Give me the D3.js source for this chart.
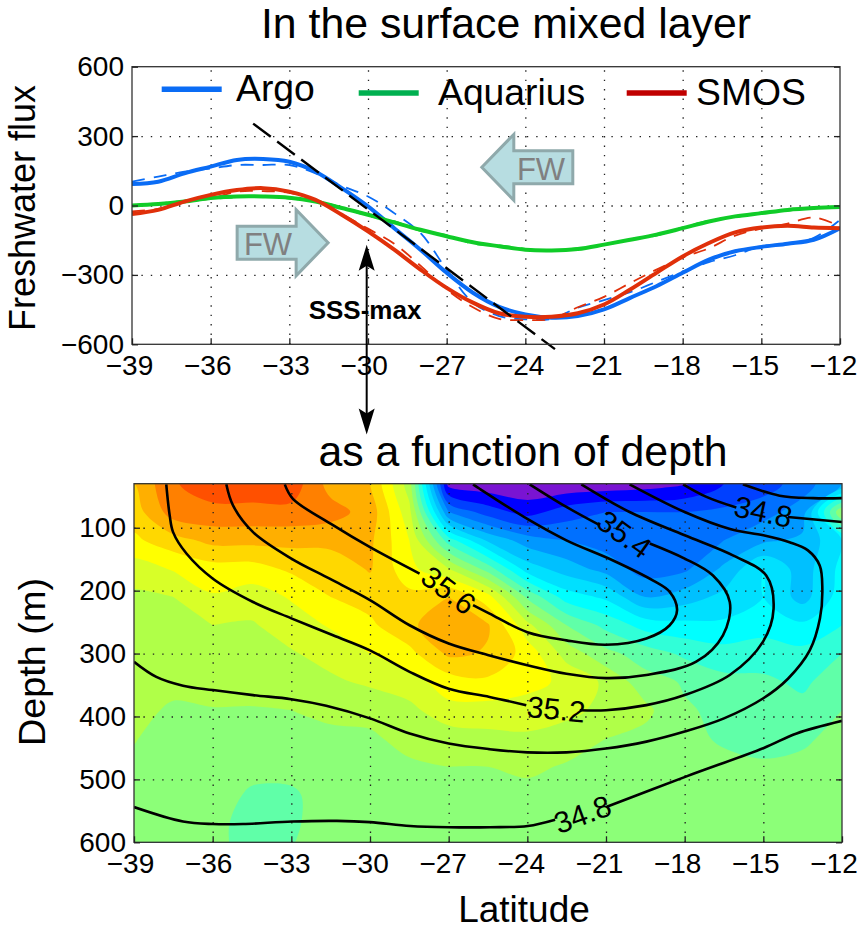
<!DOCTYPE html>
<html><head><meta charset="utf-8">
<script src="https://cdn.jsdelivr.net/npm/d3@7"></script>
<style>
html,body{margin:0;padding:0;background:#fff}
svg{display:block}
text{font-family:"Liberation Sans",Arial,sans-serif;fill:#000}
</style></head><body><svg id="c" width="857" height="930"></svg>
<script>
// ---------- DATA ----------
const latTicks=[-39,-36,-33,-30,-27,-24,-21,-18,-15,-12];
const fluxTicks=[-600,-300,0,300,600];
const depthTicks=[100,200,300,400,500,600];
const seriesLat=[-39,-38,-37,-36,-35,-34,-33,-32,-31,-30,-29,-28,-27,-26,-25,-24,-23,-22,-21,-20,-19,-18,-17,-16,-15,-14,-13,-12];
const argo=[93,103,139,168,197,201,189,146,75,-4,-98,-191,-291,-377,-438,-471,-485,-478,-449,-399,-349,-291,-234,-198,-179,-165,-148,-98];
const aquarius=[0,6,17,32,39,39,34,17,-11,-40,-73,-105,-133,-159,-176,-191,-194,-188,-169,-148,-126,-98,-69,-47,-33,-19,-11,-7];
const smos=[-37,-19,17,46,67,75,60,24,-40,-112,-191,-277,-356,-420,-466,-481,-481,-466,-428,-363,-291,-220,-162,-116,-95,-88,-95,-98];
const argoDash=[103,125,146,160,175,175,175,139,85,39,-33,-119,-277,-420,-478,-492,-490,-442,-409,-375,-330,-285,-245,-215,-176,-165,-140,-62];
const aquariusDash=[-3,8,20,28,35,42,30,20,-8,-45,-68,-110,-128,-165,-172,-188,-196,-184,-172,-145,-130,-95,-65,-50,-30,-22,-8,-5];
const smosDash=[-25,-15,15,30,60,62,55,22,-38,-100,-165,-260,-363,-440,-490,-495,-490,-440,-395,-335,-277,-225,-185,-130,-100,-78,-52,-90];
const fitLine=[[-34.38,354],[-22.87,-621]];

const gridLat=[-39,-37.5,-36,-34.5,-33,-31.5,-30,-28.5,-27,-25.5,-24,-22.5,-21,-19.5,-18,-16.5,-15,-13.5,-12];
const gridDepth=[30,75,120,165,210,255,300,345,390,435,480,525,570,615];
// colour-band position of the shading, one list per latitude, top to bottom
const shading=[
[15,14.5,13.8,12.5,11.8,11.5,11.4,11.3,11.2,11.05,10.8,10.6,10.5,10.5],
[16.9,16.5,14.6,13.1,12,11.7,11.5,11.2,10.9,10.6,10.5,10.4,10.4,10.4],
[17.6,16.7,15.3,13.6,12.9,12,11.6,11.4,10.95,10.6,10.4,10.3,10.3,10.3],
[17.6,16.7,15.3,13.6,12.5,11.9,11.6,11.3,10.95,10.5,10.2,9.9,9.6,9.6],
[17.6,16.7,15.3,14.2,13.1,12.5,11.9,11.5,11,10.6,10.2,9.9,9.9,10],
[15.6,16.4,15.3,14.4,14,13.1,12.4,11.8,11.2,10.8,10.5,10.3,10.3,10.3],
[15,15.6,15.2,15.1,14.4,13.8,13,12.2,11.2,10.9,10.6,10.4,10.4,10.4],
[11.5,12.3,13,13.3,14.3,14.8,13.7,12.6,11.7,11.2,10.9,10.6,10.5,10.5],
[0.6,4,8.5,12,15,15.7,15.2,13.5,12.7,11.4,11,10.7,10.5,10.5],
[0.3,2.5,5.8,9.5,13.4,15.1,14.9,13.8,12.6,11.7,11,10.7,10.5,10.5],
[0.2,1.6,4.5,6.5,9.8,12.3,13.6,13.3,12.6,11.8,11.2,10.7,10.5,10.5],
[0.2,2.5,4,5.5,7.5,10,11.6,12.8,12.3,11.5,10.9,10.6,10.5,10.5],
[0.3,3,3.5,4.6,6.8,8.7,10.3,11.8,11.7,11,10.5,10.5,10.5,10.5],
[0.5,3,3.2,3.5,5,7.6,9.5,10.4,11.25,10.7,10.5,10.5,10.5,10.5],
[0.9,3,3.5,3.8,5.5,7.3,8.8,9.9,10.1,10.2,10.3,10.4,10.5,10.5],
[2,3.2,4,5.2,6.3,7.2,8.4,9.3,9.8,9.9,10.2,10.4,10.5,10.5],
[2.5,3.6,4.8,7,7,7.6,8.5,9.2,9.4,9.5,10.2,10.4,10.5,10.5],
[3.5,4.5,5.2,5.5,5.6,7.2,8.3,8.8,9.3,9.8,10.3,10.5,10.5,10.5],
[5,11,7,7.3,7.5,8,9,9.6,10,10.4,10.6,10.6,10.6,10.6]
];
const bandColors=["#7a14d2","#0000ff","#0040ff","#0070ff","#0098ff","#00c0ff","#00e0ff","#00ffff","#30ffd8","#60ffa8","#8cff78","#b0ff48","#d8ff28","#ffff00","#ffd800","#ffaf00","#ff8000","#ff5000"];

const isoBottom1=[[-39,544],[-37.13,567],[-35.99,571],[-34.84,571],[-32.97,567],[-31.26,566],[-30,568],[-28.47,574],[-26.99,576],[-25.42,576],[-23.98,574],[-22.94,564]];
const isoBottom2=[[-20.97,543.5],[-17.98,496],[-14.98,450],[-13.73,427],[-12,407]];
const isoC=[[-39,313],[-38.15,337],[-37.13,351],[-35.99,358],[-34.46,366],[-33,372.5],[-31.67,383],[-30,403],[-28.49,427],[-27,443],[-25.44,452],[-24,457],[-22.51,457],[-21,451],[-19.46,440],[-18,424],[-16.5,403],[-15,371],[-14.06,340],[-13.23,295],[-12.84,244],[-12.75,197],[-12.85,160],[-13.3,136],[-14,123],[-15,112],[-16.27,102],[-18,75],[-20.1,31]];
const isoL1a=[[-37.77,31],[-37.64,80],[-37.51,107],[-37,141],[-35.99,181],[-34.46,218],[-33,244],[-31.41,271],[-30,295],[-28.49,329],[-27,356],[-25.44,369],[-24.04,382]];
const isoL1b=[[-22,390],[-21,390],[-19.46,382],[-18,366],[-16.28,334],[-15.01,281],[-14.61,229],[-14.89,176],[-16.16,144],[-18,112],[-20.1,75],[-21.94,31]];
const isoL2a=[[-35.48,31],[-35.22,65],[-34.46,107],[-33,149],[-31.54,181],[-30,215],[-28.49,255],[-27,284],[-25.44,303],[-24,318.5],[-22.51,332],[-21,339],[-19.46,334],[-17.56,313],[-16.54,271],[-16.28,218],[-16.92,176],[-18,149],[-19.33,125]];
const isoL2b=[[-21.24,96],[-22.51,67],[-23.91,31]];
const isoL3a=[[-33.25,31],[-32.94,54],[-31.41,96],[-30,131],[-28.11,173]];
const isoL3b=[[-26.07,223],[-25.44,236.5],[-24,266],[-22.51,279],[-21,286],[-19.46,276],[-18.57,255],[-18.29,231],[-18.57,202],[-19.2,184],[-20.73,152],[-22.51,120],[-24,86],[-25.82,38],[-26.07,31]];
const isoTopA=[[-18.06,31],[-17.17,51],[-16.03,68]];
const isoTopA2=[[-14.06,83],[-12,91]];
const isoTopB=[[-15.78,31],[-14.38,49],[-13.1,53],[-12,53]];
const isolines=[isoBottom1,isoBottom2,isoC,isoL1a,isoL1b,isoL2a,isoL2b,isoL3a,isoL3b,isoTopA,isoTopA2,isoTopB];
const isoLabels=[["35.6",-27,199,37],["35.4",-20.3,110,36],["35.2",-22.9,388,6],["34.8",-21.9,555,-20],["34.8",-15,74,12]];

// ---------- LAYOUT ----------
const svg=d3.select("#c");
const topBox={l:132,r:840,t:66.7,b:344.3};
const botBox={l:134,r:842,t:483.7,b:842.3};
const xT=d3.scaleLinear([-39,-12],[topBox.l,topBox.r]);
const yT=d3.scaleLinear([-600,600],[topBox.b,topBox.t]);
const xB=d3.scaleLinear([-39,-12],[botBox.l,botBox.r]);
const yB=d3.scaleLinear([30,600],[botBox.t,botBox.b]);

const defs=svg.append("defs");
defs.append("clipPath").attr("id","bc").append("rect").attr("x",botBox.l).attr("y",botBox.t).attr("width",botBox.r-botBox.l).attr("height",botBox.b-botBox.t);
defs.append("clipPath").attr("id","tc").append("rect").attr("x",topBox.l).attr("y",topBox.t).attr("width",topBox.r-topBox.l).attr("height",topBox.b-topBox.t);

// ---------- SHADED FIELD ----------
const pad=2, nx=gridLat.length, ny=gridDepth.length;
const W=nx+2*pad, H=ny+2*pad, values=new Array(W*H);
for(let j=0;j<H;j++)for(let i=0;i<W;i++){
  const ci=Math.min(nx-1,Math.max(0,i-pad)), cj=Math.min(ny-1,Math.max(0,j-pad));
  values[j*W+i]=shading[ci][cj];
}
const ixLat=d3.scaleLinear([0,nx-1],[-39,-12]);
const ixDepth=d3.scaleLinear([0,ny-1],[30,615]);
const ringLine=d3.line().curve(d3.curveCatmullRomClosed.alpha(0.5))
  .x(d=>xB(ixLat(d[0]-0.5-pad))).y(d=>yB(ixDepth(d[1]-0.5-pad)));
const field=svg.append("g").attr("clip-path","url(#bc)");
field.append("rect").attr("x",botBox.l).attr("y",botBox.t).attr("width",botBox.r-botBox.l).attr("height",botBox.b-botBox.t).attr("fill",bandColors[0]);
const contours=d3.contours().size([W,H]).thresholds(d3.range(1,bandColors.length))(values);
field.selectAll("path").data(contours).join("path")
  .attr("fill",d=>bandColors[d.value]).attr("fill-rule","evenodd")
  .attr("d",d=>d.coordinates.flatMap(poly=>poly.map(r=>ringLine(r.slice(0,-1)))).join(""));

// ---------- AXES / GRID ----------
function gridAndAxes(x,y,box,yt){
  const h=box.b-box.t,w=box.r-box.l;
  const g=svg.append("g");
  const gx=g.append("g").attr("transform",`translate(0,${box.b})`).call(d3.axisBottom(x).tickValues(latTicks.slice(1,-1)).tickSize(-h).tickFormat(""));
  const gy=g.append("g").attr("transform",`translate(${box.l},0)`).call(d3.axisLeft(y).tickValues(yt).tickSize(-w).tickFormat(""));
  [gx,gy].forEach(a=>{a.select(".domain").remove();a.selectAll("line").attr("stroke","#222").attr("stroke-width",1.3).attr("stroke-dasharray","1.4 8");});
}
gridAndAxes(xB,yB,botBox,depthTicks.slice(0,-1));
gridAndAxes(xT,yT,topBox,[-300,0,300]);

// ---------- ISOLINES ----------
const isoLine=d3.line().curve(d3.curveCatmullRom.alpha(0.5)).x(d=>xB(d[0])).y(d=>yB(d[1]));
const isoG=svg.append("g").attr("clip-path","url(#bc)");
isoG.selectAll("path").data(isolines).join("path").attr("d",isoLine).attr("fill","none").attr("stroke","#000").attr("stroke-width",2.6);
svg.append("g").selectAll("text").data(isoLabels).join("text")
  .attr("transform",d=>`translate(${xB(d[1])},${yB(d[2])}) rotate(${d[3]})`)
  .attr("text-anchor","middle").attr("dy","0.36em").attr("font-size",30).text(d=>d[0]);

// ---------- LINES ----------
const lineT=d3.line().curve(d3.curveCatmullRom.alpha(0.5)).x((d,i)=>xT(seriesLat[i])).y(d=>yT(d));
const lineG=svg.append("g").attr("clip-path","url(#tc)");
const sty=[[argoDash,"#0a6cf5"],[aquariusDash,"#10cc28"],[smosDash,"#e0300a"]];
lineG.selectAll(".dash").data(sty).join("path").attr("class","dash").attr("d",d=>lineT(d[0])).attr("fill","none").attr("stroke",d=>d[1]).attr("stroke-width",1.8).attr("stroke-dasharray","13 9");
const sol=[[argo,"#0a6cf5"],[aquarius,"#10cc28"],[smos,"#e0300a"]];
lineG.selectAll(".sol").data(sol).join("path").attr("class","sol").attr("d",d=>lineT(d[0])).attr("fill","none").attr("stroke",d=>d[1]).attr("stroke-width",4);
svg.append("path").attr("d",d3.line().x(d=>xT(d[0])).y(d=>yT(d[1]))(fitLine)).attr("fill","none").attr("stroke","#000").attr("stroke-width",2.4).attr("stroke-dasharray","22 8");

// ---------- FRAMES AND TICKS ----------
function frame(x,y,box,yt,shift0,shift1){
  svg.append("rect").attr("x",box.l).attr("y",box.t).attr("width",box.r-box.l).attr("height",box.b-box.t).attr("fill","none").attr("stroke","#333").attr("stroke-width",1.3);
  const gx=svg.append("g").attr("transform",`translate(0,${box.b})`).call(d3.axisBottom(x).tickValues(latTicks).tickSizeInner(-6).tickSizeOuter(0).tickPadding(11));
  const gy=svg.append("g").attr("transform",`translate(${box.l},0)`).call(d3.axisLeft(y).tickValues(yt).tickSizeInner(-6).tickSizeOuter(0).tickPadding(8));
  const gr=svg.append("g").attr("transform",`translate(${box.r},0)`).call(d3.axisRight(y).tickValues(yt).tickSizeInner(-6).tickSizeOuter(0).tickFormat(""));
  [gx,gy,gr].forEach(a=>{a.select(".domain").remove();a.selectAll("line").attr("stroke","#222").attr("stroke-width",1.3);
    a.selectAll("text").attr("font-size",28).attr("font-family",'"Liberation Sans",Arial,sans-serif');});
  gx.selectAll("text").attr("dx",(d,i)=>shift0+(shift1-shift0)*i/(latTicks.length-1));
}
frame(xT,yT,topBox,fluxTicks,-3,-7);
frame(xB,yB,botBox,depthTicks,-4,-8.5);

// ---------- LEGEND ----------
const legendNames=["Argo","Aquarius","SMOS"];
const legendColors=["#0a6cf5","#00b050","#c00000"];
const lgX=[161.7,358.7,626.7],lgY=[89.3,93,93],lgTxtX=[236,438,696],lgTxtY=[101,105,105];
const lg=svg.append("g");
legendNames.forEach((n,i)=>{
  lg.append("line").attr("x1",lgX[i]).attr("x2",lgX[i]+60).attr("y1",lgY[i]).attr("y2",lgY[i]).attr("stroke",legendColors[i]).attr("stroke-width",5.5);
  lg.append("text").attr("x",lgTxtX[i]).attr("y",lgTxtY[i]).attr("font-size",37.3).text(n);
});

// ---------- ANNOTATION ----------
function blockArrow(tipLat,val,dir){
  const tx=xT(tipLat),ty=yT(val);
  const hl=32,hw=33,bw=16.5,bl=91;
  const p=[[tx,ty],[tx-dir*hl,ty-hw],[tx-dir*hl,ty-bw],[tx-dir*bl,ty-bw],[tx-dir*bl,ty+bw],[tx-dir*hl,ty+bw],[tx-dir*hl,ty+hw]];
  svg.append("polygon").attr("points",p.map(a=>a.join(",")).join(" ")).attr("fill","#b7dde1").attr("stroke","#8fa9ab").attr("stroke-width",3);
}
blockArrow(-31.52,-161,1);
blockArrow(-25.66,165,-1);
svg.append("text").attr("x",268).attr("y",255).attr("text-anchor","middle").attr("font-size",31).style("fill","#808080").text("FW");
svg.append("text").attr("x",541).attr("y",180).attr("text-anchor","middle").attr("font-size",31).style("fill","#808080").text("FW");

const ax=xT(-30.05), ay1=yT(-170), ay2=yT(-990);
svg.append("line").attr("x1",ax).attr("x2",ax).attr("y1",ay1+8).attr("y2",ay2-8).attr("stroke","#000").attr("stroke-width",2);
svg.append("polygon").attr("points",`${ax},${ay1} ${ax-8},${ay1+26} ${ax},${ay1+21} ${ax+8},${ay1+26}`).attr("fill","#000");
svg.append("polygon").attr("points",`${ax},${ay2} ${ax-8},${ay2-26} ${ax},${ay2-21} ${ax+8},${ay2-26}`).attr("fill","#000");
svg.append("text").attr("x",365).attr("y",319).attr("text-anchor","middle").attr("font-size",26).attr("font-weight","bold").text("SSS-max");

// ---------- TITLES ----------
svg.append("text").attr("x",506).attr("y",38).attr("text-anchor","middle").attr("font-size",42.8).text("In the surface mixed layer");
svg.append("text").attr("x",523).attr("y",466).attr("text-anchor","middle").attr("font-size",42.8).text("as a function of depth");
svg.append("text").attr("x",524).attr("y",922).attr("text-anchor","middle").attr("font-size",37).text("Latitude");
svg.append("text").attr("transform","translate(35,208) rotate(-90)").attr("text-anchor","middle").attr("font-size",36).text("Freshwater flux");
svg.append("text").attr("transform","translate(45,662) rotate(-90)").attr("text-anchor","middle").attr("font-size",37.8).text("Depth (m)");
</script></body></html>
